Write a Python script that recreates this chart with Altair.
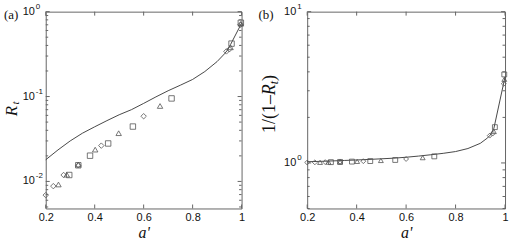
import altair as alt
import pandas as pd

# ---------------- data ----------------
X_TICKS = [0.2, 0.4, 0.6, 0.8, 1.0]

# model curve, panel (a): R_t vs a'
CURVE_A = [0.2, 0.25, 0.3, 0.35, 0.4, 0.45, 0.5, 0.55, 0.6, 0.65, 0.7, 0.75,
           0.8, 0.85, 0.9, 0.93, 0.94, 0.955, 1.0]
CURVE_R = [0.018, 0.0235, 0.030, 0.037, 0.044, 0.052, 0.061, 0.070, 0.083, 0.099,
           0.117, 0.136, 0.159, 0.197, 0.258, 0.318, 0.345, 0.41, 0.73]

# measured points (three symbol series)
DIA_A = [0.2, 0.231, 0.273, 0.333, 0.427, 0.6, 0.938, 0.95, 0.995]
DIA_R = [0.0069, 0.0088, 0.0119, 0.0155, 0.0264, 0.0586, 0.34, 0.36, 0.70]
TRI_A = [0.252, 0.286, 0.333, 0.402, 0.498, 0.667, 0.955, 0.997]
TRI_R = [0.0092, 0.0120, 0.0158, 0.0237, 0.037, 0.0774, 0.38, 0.72]
SQ_A = [0.296, 0.333, 0.381, 0.455, 0.556, 0.714, 0.959, 0.997]
SQ_R = [0.0119, 0.0155, 0.0201, 0.028, 0.0443, 0.095, 0.42, 0.74]

A_DOMAIN = [0.0048, 1.0]
A_MAJOR = [0.01, 0.1, 1.0]
A_EXP = ["-2", "-1", "0"]
A_MINOR = [0.005, 0.006, 0.007, 0.008, 0.009,
           0.02, 0.03, 0.04, 0.05, 0.06, 0.07, 0.08, 0.09,
           0.2, 0.3, 0.4, 0.5, 0.6, 0.7, 0.8, 0.9]

B_DOMAIN = [0.5, 10.0]
B_MAJOR = [1.0, 10.0]
B_EXP = ["0", "1"]
B_MINOR = [0.5, 0.6, 0.7, 0.8, 0.9, 2, 3, 4, 5, 6, 7, 8, 9]

SERIES = ["diamond", "triangle", "square"]

# ---------------- styles ----------------
SANS = "Liberation Sans"
SERIF = "Liberation Serif"
FRAME = "#666666"
TXT = "#111111"
LINE = "#333333"
MARK = "#555555"

WA, WB, H = 197, 199, 198


def frames(transform):
    c = pd.DataFrame({"a": CURVE_A, "v": [transform(r) for r in CURVE_R]})
    rows = []
    for name, xs, rs in [("diamond", DIA_A, DIA_R), ("triangle", TRI_A, TRI_R), ("square", SQ_A, SQ_R)]:
        for x, r in zip(xs, rs):
            rows.append({"a": x, "v": transform(r), "s": name})
    return c, pd.DataFrame(rows)


XAXIS = alt.Axis(values=X_TICKS, format="~g", ticks=False, tickSize=0, domain=False,
                 grid=False, labelFlush=False, labelFont=SANS, labelFontSize=11,
                 labelColor=TXT, labelPadding=3, title="a'", titleFont=SERIF,
                 titleFontStyle="italic", titleFontWeight="normal", titleFontSize=16,
                 titleColor=TXT, titlePadding=2)


def panel(curve, pts, ydom, major, exps, minor, W, tag, tag_x, title_layers, msize):
    xs = alt.Scale(domain=[0.2, 1.0], nice=False, zero=False)
    ys = alt.Scale(type="log", domain=ydom, nice=False)
    X = lambda: alt.X("a:Q", scale=xs, axis=XAXIS)
    Y = lambda: alt.Y("v:Q", scale=ys, axis=None)

    line = alt.Chart(curve).mark_line(color=LINE, strokeWidth=0.9).encode(x=X(), y=Y())
    points = alt.Chart(pts).mark_point(filled=False, strokeWidth=0.8, size=msize,
                                       color=MARK, clip=False, opacity=1).encode(
        x=X(), y=Y(),
        shape=alt.Shape("s:N", scale=alt.Scale(domain=SERIES,
                                               range=["diamond", "triangle-up", "square"]),
                        legend=None))

    xt = pd.DataFrame({"a": X_TICKS})
    tick_b = alt.Chart(xt).mark_rule(color=FRAME, strokeWidth=1).encode(
        x=X(), y=alt.value(H), y2=alt.value(H - 4))
    tick_t = alt.Chart(xt).mark_rule(color=FRAME, strokeWidth=1).encode(
        x=X(), y=alt.value(0), y2=alt.value(4))

    ym = pd.DataFrame({"v": major, "e": exps, "b": ["10"] * len(major)})
    yn = pd.DataFrame({"v": minor})
    ytl = alt.Chart(ym).mark_rule(color=FRAME).encode(y=Y(), x=alt.value(0), x2=alt.value(4))
    ytr = alt.Chart(ym).mark_rule(color=FRAME).encode(y=Y(), x=alt.value(W), x2=alt.value(W - 4))
    ynl = alt.Chart(yn).mark_rule(color=FRAME).encode(y=Y(), x=alt.value(0), x2=alt.value(2.5))
    ynr = alt.Chart(yn).mark_rule(color=FRAME).encode(y=Y(), x=alt.value(W), x2=alt.value(W - 2.5))

    ten = alt.Chart(ym).mark_text(align="right", baseline="middle", font=SANS, fontSize=11,
                                  color=TXT).encode(y=Y(), x=alt.value(-11), text="b:N")
    exp = alt.Chart(ym).mark_text(align="left", baseline="middle", font=SANS, fontSize=8,
                                  dy=-5, color=TXT).encode(y=Y(), x=alt.value(-10), text="e:N")

    lab = alt.Chart(pd.DataFrame({"t": [tag]})).mark_text(
        align="left", baseline="middle", font=SERIF, fontSize=13, color=TXT).encode(
        text="t:N", x=alt.value(tag_x), y=alt.value(3))

    layers = [line, points, tick_b, tick_t, ytl, ytr, ynl, ynr, ten, exp, lab] + title_layers
    return alt.layer(*layers).properties(width=W, height=H)


def tpiece(txt, x, y, size, italic):
    kw = dict(angle=270, align="center", baseline="middle", font=SERIF, fontSize=size, color=TXT)
    if italic:
        kw["fontStyle"] = "italic"
    return alt.Chart(pd.DataFrame({"t": [txt]})).mark_text(**kw).encode(
        text="t:N", x=alt.value(x), y=alt.value(y))


ca, pa = frames(lambda r: r)
cb, pb = frames(lambda r: 1.0 / (1.0 - r))

title_a = [tpiece("R", -34, 100, 17, True), tpiece("t", -29.5, 92, 11, True)]
title_b = [tpiece("1/(1–", -37, 103, 18, False), tpiece("R", -37, 78.5, 18, True),
           tpiece("t", -33, 71.3, 12, True), tpiece(")", -37, 66.7, 18, False)]

left = panel(ca, pa, A_DOMAIN, A_MAJOR, A_EXP, A_MINOR, WA, "(a)", -42, title_a, 30)
right = panel(cb, pb, B_DOMAIN, B_MAJOR, B_EXP, B_MINOR, WB, "(b)", -49, title_b, 24)

chart = alt.hconcat(left, right, spacing=66, bounds="flush").properties(
    padding={"left": 2, "top": 1, "right": 0, "bottom": 0}
).configure(background="white").configure_view(stroke=FRAME, strokeWidth=1)

chart.save("out.html", embed_options={"renderer": "svg", "actions": False})
